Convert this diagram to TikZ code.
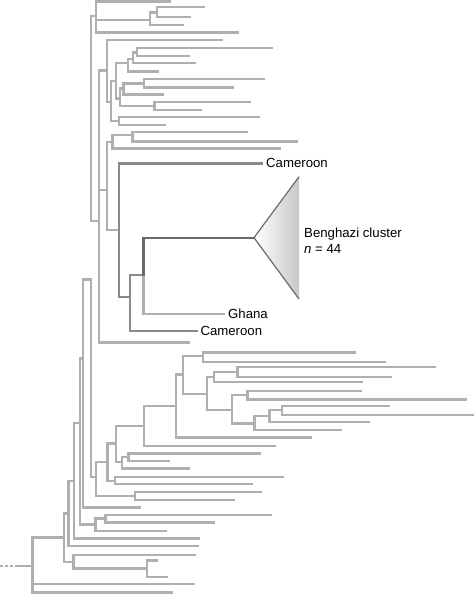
\documentclass[tikz,border=0pt]{standalone}
\usepackage{fontspec}
\setmainfont{Liberation Sans}
\definecolor{lg}{RGB}{176,176,176}
\definecolor{mg}{RGB}{138,138,138}
\definecolor{dg}{RGB}{105,105,105}
\definecolor{tg}{RGB}{200,200,200}
\begin{document}
\begin{tikzpicture}[x=1pt,y=-1pt,
  tree/.style={draw=lg,line width=2.4pt,line cap=rect},
  treemid/.style={draw=mg,line width=2.4pt,line cap=rect},
  treedark/.style={draw=dg,line width=2.4pt,line cap=rect},
  lbl/.style={inner sep=0pt,font=\fontsize{13.2}{16}\selectfont}]
\useasboundingbox (0,0) rectangle (474,594);
% ---- coordinates: lower half
\coordinate (Rd) at (0,566);
\coordinate (Rd2) at (13,566);
\coordinate (R0) at (15,566);
\coordinate (R) at (32.3,566);
\coordinate (N64) at (64,537.3);
\coordinate (L1) at (193.3,584);
\coordinate (L2) at (171.7,592.3);
\coordinate (N68) at (68.3,513.3);
\coordinate (N73) at (73.3,561.7);
\coordinate (L3) at (195,555);
\coordinate (N147) at (146.7,568.5);
\coordinate (L4) at (156.7,560.5);
\coordinate (L5) at (166.7,576.7);
\coordinate (N74) at (74,480.7);
\coordinate (L6) at (197.7,546);
\coordinate (N80) at (80,422.7);
\coordinate (L7) at (198.3,538.3);
\coordinate (N83) at (83,358.3);
\coordinate (N97) at (95.5,524.5);
\coordinate (N106) at (105.5,518.5);
\coordinate (L8) at (165.7,530.7);
\coordinate (L9) at (271,515);
\coordinate (L10) at (213.3,522.3);
\coordinate (N91L) at (91,279.3);
\coordinate (L11) at (139.5,507.3);
\coordinate (N96) at (95.7,476.7);
\coordinate (N107) at (107.3,461.7);
\coordinate (N135) at (135,496);
\coordinate (L12) at (260.3,492);
\coordinate (L13) at (234,500);
\coordinate (N116) at (116,443.3);
\coordinate (N115) at (115,480.7);
\coordinate (L14) at (282.7,476.7);
\coordinate (L15) at (252,484);
\coordinate (N144) at (144,426);
\coordinate (N122) at (122,461.7);
\coordinate (N128) at (128.3,456.7);
\coordinate (L16) at (188.3,468.3);
\coordinate (L17) at (259.3,453.3);
\coordinate (L18) at (168.3,460.7);
\coordinate (N176) at (176,406);
\coordinate (L19) at (275,446);
\coordinate (N183) at (182.7,374.3);
\coordinate (L20) at (311,437.3);
\coordinate (N203) at (202.7,355.7);
\coordinate (N207) at (206.7,394);
\coordinate (L21) at (355,352.3);
\coordinate (L22) at (385,361.7);
\coordinate (N214) at (214,376.7);
\coordinate (N232) at (231.7,410);
\coordinate (N237) at (237.3,371.7);
\coordinate (L23) at (361.7,381.7);
\coordinate (L24) at (435,366.7);
\coordinate (L25) at (390.7,376.7);
\coordinate (N247) at (247.3,395);
\coordinate (N254) at (254.3,423.3);
\coordinate (L26) at (360.7,390.7);
\coordinate (L27) at (466,399.3);
\coordinate (N269) at (269.3,416);
\coordinate (L28) at (340.7,430);
\coordinate (N282) at (281.7,410);
\coordinate (L29) at (368.3,421.7);
\coordinate (L30) at (388.3,406);
\coordinate (L31) at (472.5,415);
% ---- coordinates: upper half
\coordinate (N90U) at (90.7,16);
\coordinate (NT) at (95.7,16);
\coordinate (LT1) at (170,1.5);
\coordinate (N150) at (150,20);
\coordinate (LT2) at (238,32.7);
\coordinate (N157) at (156.7,12.7);
\coordinate (LT3) at (183,25.3);
\coordinate (LT4) at (204,7.3);
\coordinate (LT5) at (190,17.3);
\coordinate (N99) at (99,220.7);
\coordinate (N107a) at (106.7,70.7);
\coordinate (N107b) at (106.7,190);
\coordinate (LT6) at (189,342.3);
\coordinate (LT7) at (221.5,40.2);
\coordinate (N111) at (111,101.7);
\coordinate (N116a) at (115.7,81);
\coordinate (N119a) at (119,120.7);
\coordinate (N128a) at (127.7,63.3);
\coordinate (N120) at (120,98.3);
\coordinate (N133) at (132.7,59.3);
\coordinate (LT8) at (157.7,71.7);
\coordinate (N137) at (136.7,52.7);
\coordinate (LT9) at (195,63.3);
\coordinate (LT10) at (271.7,48.3);
\coordinate (LT11) at (188.3,56);
\coordinate (N123) at (123.3,88.3);
\coordinate (N154) at (154.3,106);
\coordinate (N144a) at (144,83.3);
\coordinate (LT12) at (162.3,94.3);
\coordinate (LT13) at (264,79);
\coordinate (LT14) at (232.3,87.3);
\coordinate (LT15) at (249.7,101.7);
\coordinate (LT16) at (200.7,110);
\coordinate (LT17) at (258.7,116.7);
\coordinate (LT18) at (164.3,125);
\coordinate (N112) at (112.3,141.7);
\coordinate (NB) at (119,230);
\coordinate (N132) at (132.3,135);
\coordinate (LT19) at (280,148.3);
\coordinate (LT20) at (246.3,131.7);
\coordinate (LT21) at (297,141.5);
\coordinate (Cam1) at (261.7,163.3);
\coordinate (N130) at (130,296.7);
\coordinate (N143) at (143.3,275);
\coordinate (Cam2) at (196.7,330.7);
\coordinate (Apex) at (254,237.7);
\coordinate (Gh) at (224,314);
\coordinate (T1) at (299,176.7);
\coordinate (T2) at (299,299);
% ---- light grey branches
\draw[lg,line width=2.4pt,dash pattern=on 3.3pt off 1.7pt] (Rd) -- (Rd2);
\draw[tree,line cap=butt] (R0) -- (R);
\foreach \p/\c in {R/N64,R/L1,R/L2,N64/N68,N64/N73,N73/L3,N73/N147,N147/L4,N147/L5,
  N68/N74,N68/L6,N74/N80,N74/L7,N80/N83,N80/N97,N97/N106,N97/L8,N106/L9,N106/L10,
  N83/N91L,N83/L11,N91L/N96,N96/N107,N96/N135,N135/L12,N135/L13,
  N107/N116,N107/N115,N115/L14,N115/L15,N116/N144,N116/N122,N122/N128,N122/L16,
  N128/L17,N128/L18,N144/N176,N144/L19,N176/N183,N176/L20,N183/N203,N183/N207,
  N203/L21,N203/L22,N207/N214,N207/N232,N214/N237,N214/L23,N237/L24,N237/L25,
  N232/N247,N232/N254,N247/L26,N247/L27,N254/N269,N254/L28,N269/N282,N269/L29,
  N282/L30,N282/L31,
  N90U/NT,N90U/N99,NT/LT1,NT/N150,NT/LT2,N150/N157,N150/LT3,N157/LT4,N157/LT5,
  N99/N107a,N99/N107b,N99/LT6,N107a/LT7,N107a/N111,N111/N116a,N111/N119a,
  N116a/N128a,N116a/N120,N128a/N133,N128a/LT8,N133/N137,N133/LT9,N137/LT10,N137/LT11,
  N120/N123,N120/N154,N123/N144a,N123/LT12,N144a/LT13,N144a/LT14,N154/LT15,N154/LT16,
  N119a/LT17,N119a/LT18,N107b/N112,N107b/NB,N112/N132,N112/LT19,N132/LT20,N132/LT21,
  N143/Gh}
  \draw[tree] (\p) |- (\c);
% ---- Cameroon lineage
\foreach \p/\c in {NB/Cam1,NB/N130,N130/N143,N130/Cam2}
  \draw[treemid] (\p) |- (\c);
\draw[treedark] (N143) |- (Apex);
% ---- collapsed clade
\shade[left color=white,right color=tg] (Apex) -- (T1) -- (T2) -- cycle;
\draw[dg,line width=1.2pt,line join=round] (T1) -- (Apex) -- (T2);
% ---- labels
\node[lbl,anchor=west] (lcam1) at ([xshift=4.3pt]Cam1) {Cameroon};
\node[lbl,anchor=west] (lgh) at ([xshift=4pt]Gh) {Ghana};
\node[lbl,anchor=west] (lcam2) at ([xshift=3.6pt]Cam2) {Cameroon};
\node[lbl,anchor=base west] (lben) at (304,237.7) {Benghazi cluster};
\node[lbl,anchor=base west] (ln) at (304,253.3) {\textit{n} = 44};
\end{tikzpicture}
\end{document}
